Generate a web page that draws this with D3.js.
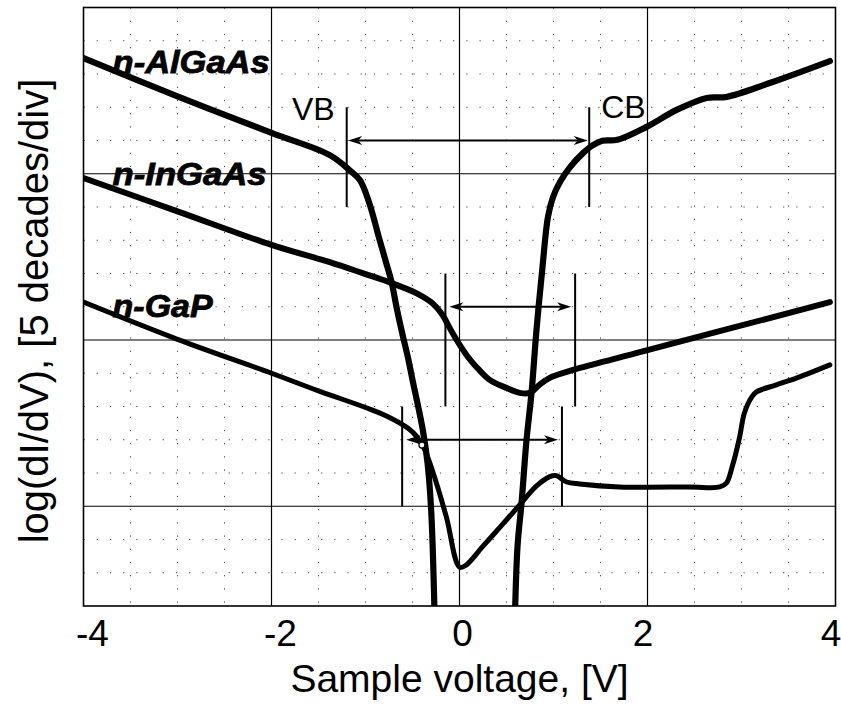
<!DOCTYPE html>
<html><head><meta charset="utf-8">
<script src="https://cdn.jsdelivr.net/npm/d3@7"></script>
<style>body{margin:0;background:#fff}svg{display:block}</style>
</head><body><svg id="c" width="841" height="704"></svg>
<script>
// ---- data ----
const xTicks = [-4, -2, 0, 2, 4];
const yMajor = [0, 5, 10];
const xMinor = [-3.5, -3, -2.5, -1.5, -1, -0.5, 0.5, 1, 1.5, 2.5, 3, 3.5];
const yMinor = [-2, -1, 1, 2, 3, 4, 6, 7, 8, 9, 11, 12, 13, 14];

// AlGaAs: valence branch, then conduction branch (null separates)
const alGaAs = [[-4.0,13.48],[-3.0,12.33],[-2.0,11.23],[-1.38,10.56],[-1.17,10.11],[-1.06,9.81],[-0.96,9.12],[-0.85,8.01],[-0.78,7.32],[-0.72,6.71],[-0.67,5.99],[-0.61,5.21],[-0.55,4.49],[-0.50,3.80],[-0.39,2.29],[-0.34,1.30],[-0.30,-0.20],[-0.265,-3.3],
  null,
  [0.59,-3.3],[0.617,-1.22],[0.66,0.10],[0.713,1.99],[0.766,3.41],[0.819,5.30],[0.883,7.20],[0.941,8.70],[0.995,9.30],[1.069,9.75],[1.176,10.20],[1.314,10.62],[1.42,10.86],[1.52,10.99],[1.68,11.02],[1.99,11.41],[2.31,11.92],[2.63,12.28],[2.84,12.31],[3.30,12.73],[3.94,13.39]];
const inGaAs = [[-4.0,9.87],[-3.0,8.87],[-2.0,7.86],[-1.38,7.34],[-1.03,7.01],[-0.72,6.71],[-0.46,6.41],[-0.29,6.11],[-0.18,5.75],[-0.11,5.39],[-0.03,5.0],[0.09,4.49],[0.18,4.19],[0.32,3.80],[0.50,3.56],[0.64,3.41],[0.75,3.41],[0.85,3.65],[0.96,3.86],[1.14,4.04],[1.28,4.16],[1.97,4.67],[3.94,6.14]];
const gaP = [[-4.0,6.14],[-3.0,5.02],[-2.0,4.00],[-1.5,3.47],[-1.0,2.97],[-0.75,2.68],[-0.55,2.35],[-0.45,2.08],[-0.37,1.70],[-0.29,1.09],[-0.14,-0.32],[0.0,-1.83],[0.07,-1.77],[0.25,-1.20],[0.45,-0.57],[0.64,0.04],[0.82,0.61],[0.96,0.89],[1.03,0.92],[1.14,0.73],[1.28,0.67],[1.70,0.58],[2.45,0.58],[2.77,0.58],[2.84,0.70],[2.90,1.18],[2.98,2.08],[3.03,2.80],[3.11,3.29],[3.16,3.44],[3.37,3.65],[3.59,3.86],[3.94,4.25]];

// band edges: [VB voltage, CB voltage, tick low, tick high, arrow level]
const gapAlGaAs = [-1.20, 1.38, 9, 12, 11];
const gapInGaAs = [-0.15, 1.23, 3, 7, 6];
const gapGaP = [-0.61, 1.09, 0, 3, 2];
const gapMarker = [-0.40, 1.84];

const seriesNames = ["n-AlGaAs", "n-InGaAs", "n-GaP"];
const labelPos = [[-3.69, 13.03], [-3.69, 9.66], [-3.69, 5.7]];
const bandLabels = ["VB", "CB"];
const xTitle = "Sample voltage, [V]";
const yTitle = "log(dI/dV), [5 decades/div]";

// ---- drawing ----
const svg = d3.select("#c");
const FONT = "'Liberation Sans', Arial, Helvetica, sans-serif";
const L = 83.5, R = 835.5, T = 7.5, B = 606;
const x = d3.scaleLinear().domain([-4, 4]).range([L, R]);
const y = d3.scaleLinear().domain([-3, 15]).range([B, T]);

svg.append("rect").attr("width", 841).attr("height", 704).attr("fill", "#fff");

svg.append("defs").append("clipPath").attr("id", "clip")
  .append("rect").attr("x", L).attr("y", T).attr("width", R - L).attr("height", B - T);

// minor dotted grid
const g = svg.append("g");
g.selectAll(".mx").data(xMinor).join("line")
  .attr("x1", d => x(d)).attr("x2", d => x(d)).attr("y1", T).attr("y2", B)
  .attr("stroke", "#444").attr("stroke-width", 1).attr("stroke-dasharray", "1.2,12");
g.selectAll(".my").data(yMinor).join("line")
  .attr("y1", d => y(d)).attr("y2", d => y(d)).attr("x1", L).attr("x2", R)
  .attr("stroke", "#444").attr("stroke-width", 1).attr("stroke-dasharray", "1.2,12");

// major grid
g.selectAll(".gx").data(xTicks.slice(1, -1)).join("line")
  .attr("x1", d => x(d)).attr("x2", d => x(d)).attr("y1", T).attr("y2", B)
  .attr("stroke", "#000").attr("stroke-width", 1.2);
g.selectAll(".gy").data(yMajor).join("line")
  .attr("y1", d => y(d)).attr("y2", d => y(d)).attr("x1", L).attr("x2", R)
  .attr("stroke", "#000").attr("stroke-width", 1.2);

// frame
svg.append("rect").attr("x", L).attr("y", T).attr("width", R - L).attr("height", B - T)
  .attr("fill", "none").attr("stroke", "#000").attr("stroke-width", 1.6);

// x axis labels
const ax = svg.append("g").attr("transform", `translate(0,${B})`)
  .call(d3.axisBottom(x).tickValues(xTicks).tickSize(0).tickFormat(d => d < 0 ? "-" + Math.abs(d) : String(d)));
ax.select(".domain").remove();
ax.selectAll("text").attr("y", 40).attr("dy", 0)
  .attr("dx", d => d < 0 ? 8.5 : (d > 0 ? -5 : 2.5))
  .style("font-family", FONT).style("font-size", "37px").attr("fill", "#000");

svg.append("text").attr("x", x(0)).attr("y", 692).attr("text-anchor", "middle")
  .style("font-family", FONT).style("font-size", "39px").text(xTitle);
svg.append("text").attr("transform", "translate(48,311) rotate(-90)").attr("text-anchor", "middle")
  .style("font-family", FONT).style("font-size", "40px").text(yTitle);

// curves
const line = d3.line().defined(d => d !== null).x(d => x(d[0])).y(d => y(d[1]))
  .curve(d3.curveCatmullRom.alpha(0.5));
const curves = svg.append("g").attr("clip-path", "url(#clip)");
[[alGaAs, 6.2], [inGaAs, 6], [gaP, 5]].forEach(([data, w]) => {
  curves.append("path").attr("d", line(data)).attr("fill", "none").attr("stroke", "#000")
    .attr("stroke-width", w).attr("stroke-linejoin", "round").attr("stroke-linecap", "round");
});

// band gap markers
function arrowHead(px, py, dir) {
  const l = 14, w = 4.5, n = 10;
  return `M${px},${py} L${px - dir * l},${py - w} L${px - dir * n},${py} L${px - dir * l},${py + w} Z`;
}
[gapAlGaAs, gapInGaAs, gapGaP].forEach((gp, i) => {
  const [vb, cb, lo, hi, lev] = gp;
  [vb, cb].forEach(v => {
    svg.append("line").attr("x1", x(v)).attr("x2", x(v)).attr("y1", y(hi)).attr("y2", y(lo))
      .attr("stroke", "#000").attr("stroke-width", 2);
  });
  const inset = i === 0 ? 1.5 : 4;
  const x1 = x(vb) + inset, x2 = x(cb) - inset, yy = y(lev);
  svg.append("line").attr("x1", x1 + 6).attr("x2", x2 - 6).attr("y1", yy).attr("y2", yy)
    .attr("stroke", "#000").attr("stroke-width", 1.8);
  svg.append("path").attr("d", arrowHead(x2, yy, 1)).attr("fill", "#000");
  svg.append("path").attr("d", arrowHead(x1, yy, -1)).attr("fill", "#000");
});
svg.append("circle").attr("cx", x(gapMarker[0])).attr("cy", y(gapMarker[1])).attr("r", 3)
  .attr("fill", "#fff").attr("stroke", "#000").attr("stroke-width", 1.2);

// band labels
svg.append("text").attr("x", x(gapAlGaAs[0]) - 12).attr("y", 120).attr("text-anchor", "end")
  .style("font-family", FONT).style("font-size", "32px").text(bandLabels[0]);
svg.append("text").attr("x", x(gapAlGaAs[1]) + 12).attr("y", 118).attr("text-anchor", "start")
  .style("font-family", FONT).style("font-size", "32px").text(bandLabels[1]);

// series labels
const labelW = [157, 154, 100];
seriesNames.forEach((s, i) => {
  svg.append("text").attr("x", x(labelPos[i][0])).attr("y", y(labelPos[i][1]))
    .style("font-family", FONT).style("font-size", "31px").style("font-weight", "bold")
    .style("font-style", "italic").attr("stroke", "#000").attr("stroke-width", 0.8)
    .attr("textLength", labelW[i]).attr("lengthAdjust", "spacingAndGlyphs")
    .text(s);
});
</script></body></html>
